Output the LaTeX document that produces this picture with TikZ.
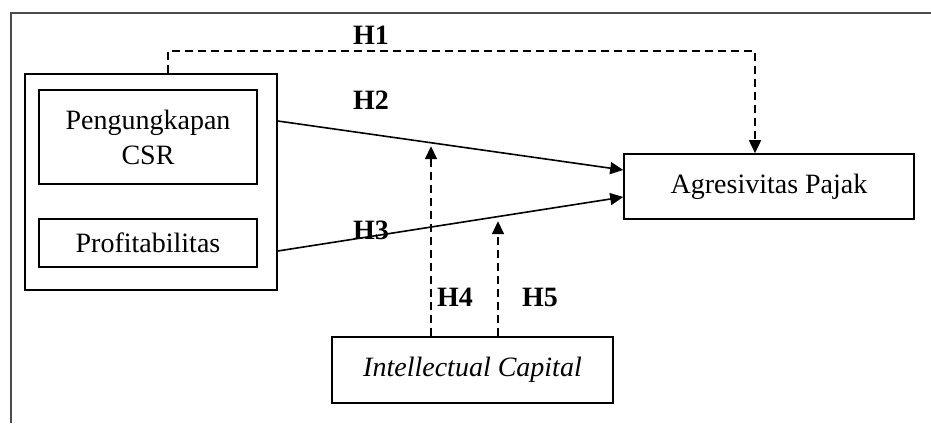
\documentclass[tikz,border=0pt]{standalone}
\usepackage{fontspec}
\setmainfont{Liberation Serif}
\usetikzlibrary{arrows.meta}
\begin{document}
\begin{tikzpicture}[x=1pt,y=-1pt,
  box/.style={draw,line width=1.6pt,rectangle,inner sep=0pt,align=center,font=\fontsize{28}{35}\selectfont},
  hyp/.style={font=\fontsize{28}{34}\selectfont\bfseries},
  lnk/.style={line width=1.6pt,-{Triangle[length=13pt,width=12pt]}},
  dep/.style={lnk,dash pattern=on 8pt off 5pt}]
\useasboundingbox (0,0) rectangle (931,423);
\draw[line width=1.8pt,gray!60!black] (931,13) -- (11,13) -- (11,423);
% variables
\node[box,minimum width=252pt,minimum height=216pt] (grp) at (151,182) {};
\node[box,minimum width=218pt,minimum height=94pt] (csr) at (148,137) {Pengungkapan\\CSR};
\node[box,minimum width=218pt,minimum height=48pt] (prof) at (148,243) {Profitabilitas};
\node[box,minimum width=290pt,minimum height=65pt] (ap) at (769,186.5) {Agresivitas Pajak};
\node[box,minimum width=281pt,minimum height=66pt] (ic) at (472.5,370) {\itshape Intellectual Capital};
% paths
\draw[dep] ([xshift=17pt]grp.north) -- ++(0,-22) -| ([xshift=-14pt]ap.north);
\draw[lnk] ([yshift=61pt]grp.east) -- ([yshift=16.5pt]ap.west);
\draw[lnk] ([yshift=-69pt]grp.east) -- ([yshift=-10.5pt]ap.west);
\draw[dep] ([xshift=-41.5pt]ic.north) -- ++(0,-190);
\draw[dep] ([xshift=25.5pt]ic.north) -- ++(0,-115);
% labels
\node[hyp] (h1) at (371,35) {H1};
\node[hyp] (h2) at (371,100) {H2};
\node[hyp] (h3) at (371,230) {H3};
\node[hyp] (h4) at (455,297) {H4};
\node[hyp] (h5) at (540,297) {H5};
\end{tikzpicture}
\end{document}
